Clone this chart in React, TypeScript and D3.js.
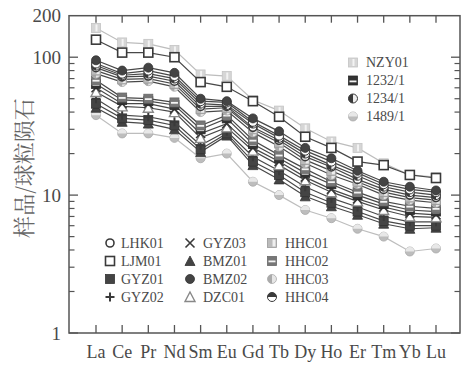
import React from "react";
import * as d3 from "d3";

const ELEMENTS = ["La", "Ce", "Pr", "Nd", "Sm", "Eu", "Gd", "Tb", "Dy", "Ho", "Er", "Tm", "Yb", "Lu"];
const Y_TICKS = [1, 10, 100, 200];

const NZY01 = [163, 128, 125, 113, 75, 73, 49, 41, 30.5, 24.5, 22, 17, 14, 13.5];
const LJM01 = [134, 108, 108, 100, 66, 61, 48, 37, 26.5, 22, 17.5, 16.5, 14, 13.3];
const BMZ02 = [95, 80, 84, 77, 50, 48, 36, 29, 22, 18.5, 15, 12.5, 11.5, 10.8];
const HHC04 = [90, 76, 80, 73, 48, 47, 34, 27, 21, 17.5, 14.5, 12, 11, 10.5];
const S1234 = [87, 74, 76, 70, 46, 45, 33, 26, 20, 16.5, 13.8, 11.5, 10.5, 10];
const LHK01 = [84, 72, 73, 67, 44, 44, 31, 25, 19, 16, 13, 11, 10, 9.6];
const HHC01 = [80, 69, 70, 64, 42, 43, 30, 24, 18, 15, 12.5, 10.5, 9.6, 9.2];
const HHC03 = [76, 66, 67, 61, 40, 41, 28.5, 22.5, 17, 14, 12, 10, 9.2, 8.8];
const HHC02 = [68, 51, 50, 47, 32, 38, 25, 19.5, 15.5, 12.5, 10.5, 9, 8.3, 8];
const S1232 = [64, 49, 48, 45, 30, 36, 23.5, 18.5, 14.5, 12, 10, 8.6, 7.8, 7.6];
const GYZ03 = [60, 46, 46, 42, 28, 33, 22, 17.5, 13.5, 11, 9.4, 8.2, 7.4, 7.2];
const DZC01 = [56, 44, 43, 40, 26, 31, 21, 16.5, 12.8, 10.5, 9, 7.8, 7, 6.9];
const GYZ02 = [50, 38, 37, 34, 23, 29, 19, 15, 11.5, 9.5, 8.2, 7, 6.4, 6.4];
const GYZ01 = [46, 36, 35, 32, 21.5, 28, 17.5, 14, 10.5, 8.8, 7.6, 6.5, 6, 6];
const BMZ01 = [43, 34, 33, 30, 20.5, 27, 16.5, 13, 9.8, 8.3, 7.2, 6.2, 5.7, 5.8];
const S1489 = [38, 28, 28, 26, 18.5, 20, 12.5, 10, 7.8, 6.8, 5.7, 5, 3.9, 4.1];

const LEGEND1 = [
  ["LHK01", "LJM01", "GYZ01", "GYZ02"],
  ["GYZ03", "BMZ01", "BMZ02", "DZC01"],
  ["HHC01", "HHC02", "HHC03", "HHC04"],
];
const LEGEND2 = ["NZY01", "1232/1", "1234/1", "1489/1"];

const SERIES: { name: string; values: number[] }[] = [
  { name: "NZY01", values: NZY01 },
  { name: "1489/1", values: S1489 },
  { name: "BMZ01", values: BMZ01 },
  { name: "GYZ01", values: GYZ01 },
  { name: "GYZ02", values: GYZ02 },
  { name: "DZC01", values: DZC01 },
  { name: "GYZ03", values: GYZ03 },
  { name: "1232/1", values: S1232 },
  { name: "HHC02", values: HHC02 },
  { name: "HHC03", values: HHC03 },
  { name: "HHC01", values: HHC01 },
  { name: "LHK01", values: LHK01 },
  { name: "1234/1", values: S1234 },
  { name: "HHC04", values: HHC04 },
  { name: "BMZ02", values: BMZ02 },
  { name: "LJM01", values: LJM01 },
];

const MARKER: Record<string, string> = {
  LHK01: "circleOpen",
  LJM01: "squareOpen",
  GYZ01: "squareFilled",
  GYZ02: "plus",
  GYZ03: "cross",
  BMZ01: "triFilled",
  BMZ02: "circleFilled",
  DZC01: "triOpen",
  HHC01: "sqHalfV",
  HHC02: "sqBand",
  HHC03: "circHalfLight",
  HHC04: "circTopHalf",
  NZY01: "sqLight",
  "1232/1": "sqBandDark",
  "1234/1": "circLeftHalf",
  "1489/1": "circHalfH",
};
const LIGHT = new Set(["NZY01", "1489/1"]);

const DARK = "#3a3a3a";
const W = 463;
const H = 367;
const LEFT = 69;
const RIGHT = 460;
const TOP = 15.7;
const BOTTOM = 333;

function Marker({ kind, x, y, s }: { kind: string; x: number; y: number; s: number }) {
  const h = s / 2;
  const r = s / 2;
  switch (kind) {
    case "circleOpen":
      return <circle cx={x} cy={y} r={r - 0.5} fill="#fff" stroke={DARK} strokeWidth={1.6} />;
    case "squareOpen":
      return <rect x={x - h} y={y - h} width={s} height={s} fill="#fff" stroke={DARK} strokeWidth={1.6} />;
    case "squareFilled":
      return <rect x={x - h} y={y - h} width={s} height={s} fill="#444" stroke="#333" strokeWidth={0.8} />;
    case "plus":
      return <path d={`M${x - h},${y}H${x + h}M${x},${y - h}V${y + h}`} stroke={DARK} strokeWidth={2} />;
    case "cross":
      return <path d={`M${x - h},${y - h}L${x + h},${y + h}M${x + h},${y - h}L${x - h},${y + h}`} stroke={DARK} strokeWidth={1.6} />;
    case "triFilled":
      return <polygon points={`${x},${y - h - 0.5} ${x + h + 0.5},${y + h} ${x - h - 0.5},${y + h}`} fill="#444" stroke="#333" strokeWidth={0.8} />;
    case "circleFilled":
      return <circle cx={x} cy={y} r={r} fill="#444" stroke="#333" strokeWidth={0.8} />;
    case "triOpen":
      return <polygon points={`${x},${y - h - 0.5} ${x + h + 0.5},${y + h} ${x - h - 0.5},${y + h}`} fill="#fff" stroke="#888" strokeWidth={1.4} />;
    case "sqHalfV":
      return (
        <g>
          <rect x={x - h} y={y - h} width={s} height={s} fill="#bbb" stroke="#999" strokeWidth={0.8} />
          <rect x={x + 0.5} y={y - h + 1} width={h - 1.5} height={s - 2} fill="#eee" />
        </g>
      );
    case "sqBand":
      return (
        <g>
          <rect x={x - h} y={y - h} width={s} height={s} fill="#777" stroke="#666" strokeWidth={0.8} />
          <rect x={x - h + 1} y={y - 0.5} width={s - 2} height={s * 0.2} fill="#f4f4f4" />
        </g>
      );
    case "circHalfLight":
      return (
        <g>
          <circle cx={x} cy={y} r={r} fill="#e6e6e6" stroke="#aaa" strokeWidth={0.8} />
          <path d={`M${x},${y - r}A${r},${r} 0 0 0 ${x},${y + r}Z`} fill="#aaa" />
        </g>
      );
    case "circTopHalf":
      return (
        <g>
          <circle cx={x} cy={y} r={r} fill="#fff" stroke={DARK} strokeWidth={1} />
          <path d={`M${x - r},${y}A${r},${r} 0 0 1 ${x + r},${y}Z`} fill={DARK} />
        </g>
      );
    case "sqLight":
      return (
        <g>
          <rect x={x - h} y={y - h} width={s} height={s} fill="#d6d6d6" stroke="#c4c4c4" strokeWidth={0.8} />
          <rect x={x - 0.5} y={y - h + 1} width={s * 0.22} height={s - 2} fill="#f3f3f3" />
        </g>
      );
    case "sqBandDark":
      return (
        <g>
          <rect x={x - h} y={y - h} width={s} height={s} fill="#333" stroke="#2a2a2a" strokeWidth={0.8} />
          <rect x={x - h + 1} y={y} width={s - 2} height={s * 0.2} fill="#f4f4f4" />
        </g>
      );
    case "circLeftHalf":
      return (
        <g>
          <circle cx={x} cy={y} r={r} fill="#eee" stroke={DARK} strokeWidth={1} />
          <path d={`M${x},${y - r}A${r},${r} 0 0 0 ${x},${y + r}Z`} fill={DARK} />
        </g>
      );
    case "circHalfH":
      return (
        <g>
          <circle cx={x} cy={y} r={r} fill="#bdbdbd" stroke="#aaa" strokeWidth={0.8} />
          <path d={`M${x - r},${y}A${r},${r} 0 0 1 ${x + r},${y}Z`} fill="#e8e8e8" />
        </g>
      );
    default:
      return null;
  }
}

const SERIF = "Liberation Serif";
const TEXT_COLOR = "#4a4a4a";

export default function App() {
  const x = d3.scalePoint<string>().domain(ELEMENTS).range([96, 436]).padding(0);
  const y = d3.scaleLog().domain([1, 200]).range([BOTTOM, TOP]);
  const line = d3
    .line<number>()
    .x((_, i) => x(ELEMENTS[i]) as number)
    .y((d) => y(d));

  const minor: number[] = [];
  for (const dec of [1, 10]) for (let k = 2; k <= 9; k++) minor.push(dec * k);
  const major = [1, 10, 100];

  const serifStyle = { fontFamily: `'${SERIF}'` };

  return (
    <svg width={W} height={H} style={{ position: "absolute", left: 0, top: 0, background: "#fff" }}>
      <rect x={0} y={0} width={W} height={H} fill="#fff" />
      {SERIES.map((s) => {
        const light = LIGHT.has(s.name);
        return (
          <g key={s.name}>
            <path d={line(s.values) || ""} fill="none" stroke={light ? "#bdbdbd" : "#484848"} strokeWidth={1.2} />
            {s.values.map((v, i) => (
              <Marker key={i} kind={MARKER[s.name]} x={x(ELEMENTS[i]) as number} y={y(v)} s={9} />
            ))}
          </g>
        );
      })}
      <rect x={LEFT} y={TOP} width={RIGHT - LEFT} height={BOTTOM - TOP} fill="none" stroke="#555" strokeWidth={1.5} />
      {ELEMENTS.map((e) => {
        const xx = x(e) as number;
        return (
          <g key={e}>
            <line x1={xx} x2={xx} y1={BOTTOM} y2={BOTTOM - 8} stroke="#555" strokeWidth={1.3} />
            <line x1={xx} x2={xx} y1={TOP} y2={TOP + 7} stroke="#555" strokeWidth={1.3} />
            <text x={xx} y={BOTTOM + 25} textAnchor="middle" style={serifStyle} fontSize={18} fill={TEXT_COLOR}>
              {e}
            </text>
          </g>
        );
      })}
      {major.map((v) => (
        <g key={"M" + v}>
          <line x1={LEFT} x2={LEFT + 9} y1={y(v)} y2={y(v)} stroke="#555" strokeWidth={1.3} />
          <line x1={RIGHT} x2={RIGHT - 9} y1={y(v)} y2={y(v)} stroke="#555" strokeWidth={1.3} />
        </g>
      ))}
      {minor.map((v) => (
        <g key={"m" + v}>
          <line x1={LEFT} x2={LEFT + 5.5} y1={y(v)} y2={y(v)} stroke="#555" strokeWidth={1.2} />
          <line x1={RIGHT} x2={RIGHT - 5.5} y1={y(v)} y2={y(v)} stroke="#555" strokeWidth={1.2} />
        </g>
      ))}
      {Y_TICKS.map((v) => (
        <text key={"t" + v} x={61} y={y(v)} dy="0.35em" textAnchor="end" style={serifStyle} fontSize={19} fill={TEXT_COLOR}>
          {v}
        </text>
      ))}
      <text
        transform={`translate(24,168) rotate(-90)`}
        textAnchor="middle"
        dy="0.35em"
        style={{ fontFamily: "'Noto Serif CJK SC'" }}
        fontSize={22}
        fill="#666"
      >
        样品/球粒陨石
      </text>
      {LEGEND1.map((col, ci) =>
        col.map((name, ri) => {
          const mx = [110, 190, 272][ci];
          const tx = [121, 203, 285][ci];
          const yy = 243 + ri * 18;
          return (
            <g key={name}>
              <Marker kind={MARKER[name]} x={mx} y={yy} s={9} />
              <text x={tx} y={yy} dy="0.35em" style={serifStyle} fontSize={14} fill={TEXT_COLOR}>
                {name}
              </text>
            </g>
          );
        })
      )}
      {LEGEND2.map((name, ri) => {
        const yy = 62.5 + ri * 18;
        return (
          <g key={name}>
            <Marker kind={MARKER[name]} x={353} y={yy} s={9} />
            <text x={366} y={yy} dy="0.35em" style={serifStyle} fontSize={14} fill={TEXT_COLOR}>
              {name}
            </text>
          </g>
        );
      })}
    </svg>
  );
}
